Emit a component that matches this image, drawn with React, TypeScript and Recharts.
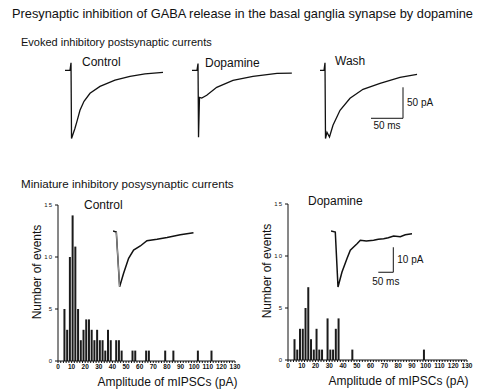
import { Bar, BarChart, Line, LineChart, ReferenceLine, XAxis, YAxis } from "recharts";

const FONT = "Arial, 'Liberation Sans', Helvetica, sans-serif";
const INK = "#111";

// Evoked IPSCs (time in ms from trace start, current in pA)
const CONTROL_EVOKED_T = [0, 7.8, 9.4, 10.2, 15.6, 18.8, 23.4, 29.7, 39.1, 54.7, 78.1, 101.6, 125, 153.1];
const CONTROL_EVOKED_I = [0, 0, 12, -110, -93.5, -82, -64.5, -50, -37, -26, -16, -9.7, -5.6, -3.2];

const DOPAMINE_EVOKED_T = [0, 7.8, 9.4, 10.2, 11.7, 15.2, 23, 38.6, 64, 95.3, 132.8, 156];
const DOPAMINE_EVOKED_I = [0, 0, 11, -108, -43.5, -44.7, -40.3, -27.4, -16.1, -9.7, -4.8, -4.4];

const WASH_EVOKED_T = [0, 6.3, 7.8, 8.6, 10.9, 14.8, 20.3, 31.3, 46.9, 67.2, 93.8, 125, 151.6];
const WASH_EVOKED_I = [0, 0, 12, -110, -100, -107.6, -88.7, -64.5, -45.2, -30.6, -21, -11.3, -6.5];

// averaged mIPSC insets
const CONTROL_MINI_T = [0, 11, 22, 35.3, 52, 68.6, 91, 113, 146.5, 180, 224, 268];
const CONTROL_MINI_I = [0, -0.4, -22.3, -16.9, -10.9, -7.6, -6, -3.9, -3.3, -2.6, -1.5, -0.7];

const DOPAMINE_MINI_T = [0, 14.3, 23.3, 36.6, 53.3, 64.3, 75.3, 87.6, 97.6, 117.5, 141.9, 157.5, 175.2, 190.8, 208.5, 230.8, 247.4, 269.7];
const DOPAMINE_MINI_I = [0, -0.4, -22.4, -16.4, -11, -7.7, -6.4, -5, -3.7, -4, -3.7, -3.3, -3.1, -2.7, -2, -2.3, -1.5, -1.1];

// amplitude histograms (2 pA bins, bin centre in pA)
const CONTROL_AMP = [5, 7, 9, 11, 13, 15, 17, 19, 21, 23, 25, 27, 29, 31, 33, 35, 37, 39, 43, 45, 47, 55, 57, 65, 67, 79, 85, 103, 113];
const CONTROL_N = [5, 3, 10, 14, 11, 5, 2, 3, 4, 4, 3, 2, 3, 2, 2, 1, 3, 2, 2, 2, 1, 1, 1, 1, 1, 1, 1, 1, 1];

const DOPAMINE_AMP = [5, 7, 9, 11, 13, 15, 17, 19, 21, 23, 25, 29, 31, 33, 35, 37, 47, 99];
const DOPAMINE_N = [2, 1, 3, 3, 5, 7, 2, 1, 3, 1, 1, 4, 1, 1, 3, 4, 1, 1];

const AMP_LABELS = [0, 10, 20, 30, 40, 50, 60, 70, 80, 90, 100, 110, 120, 130];
const AMP_TICKS = Array.from({ length: 66 }, (_, k) => k * 2);
const COUNT_TICKS = [0, 5, 10, 15];

const EVOKED_MS_PX = 1.5625;
const EVOKED_PA_PX = 50 / 31;
const MINI_MS_PX = 3.33;
const MINI_PA_PX = 0.4;

type TraceProps = {
  t: number[];
  i: number[];
  left: number;
  top: number;
  width: number;
  height: number;
  msPx: number;
  paPx: number;
  yMax: number;
  sw?: number;
  fallIdx?: number[];
  children?: React.ReactNode;
};

function Trace({ t, i, left, top, width, height, msPx, paPx, yMax, sw = 1.3, fallIdx, children }: TraceProps) {
  const data = t.map((tt, k) => ({
    t: tt,
    i: i[k],
    fall: fallIdx && fallIdx.includes(k) ? i[k] : null,
  }));
  return (
    <div style={{ position: "absolute", left, top }}>
      <LineChart width={width} height={height} data={data} margin={{ top: 0, right: 0, bottom: 0, left: 0 }}>
        <XAxis type="number" dataKey="t" domain={[0, width * msPx]} hide />
        <YAxis type="number" domain={[yMax - height * paPx, yMax]} hide />
        <Line type="linear" dataKey="i" stroke={INK} strokeWidth={sw} dot={false} isAnimationActive={false} />
        {fallIdx && (
          <Line type="linear" dataKey="fall" stroke="#9a9a9a" strokeWidth={1} dot={false} isAnimationActive={false} />
        )}
        {children}
      </LineChart>
    </div>
  );
}

function AmpTick(props: any) {
  const { x, y, payload } = props;
  if (!AMP_LABELS.includes(payload.value)) return <g />;
  return (
    <text x={x} y={y + 4} textAnchor="middle" fontSize={6.5} fontWeight="bold" fill={INK}>
      {payload.value}
    </text>
  );
}

function Histogram({ amps, counts, left, top, plotW }: { amps: number[]; counts: number[]; left: number; top: number; plotW: number }) {
  const data = amps.map((a, k) => ({ amp: a, n: counts[k] }));
  const width = 250;
  return (
    <div style={{ position: "absolute", left, top }}>
      <BarChart width={width} height={195} data={data} margin={{ top: 10, right: width - 58 - plotW, bottom: 19, left: 28 }}>
        <XAxis
          type="number"
          dataKey="amp"
          domain={[0, 130]}
          ticks={AMP_TICKS}
          interval={0}
          tickSize={2}
          height={10}
          allowDataOverflow
          axisLine={{ stroke: INK }}
          tickLine={{ stroke: INK }}
          tick={<AmpTick />}
          label={(p: any) => {
            const vb = p.viewBox;
            return (
              <text x={vb.x + vb.width / 2 + 21} y={vb.y + 25} textAnchor="middle" fontSize={12} fill={INK}>
                Amplitude of mIPSCs (pA)
              </text>
            );
          }}
        />
        <YAxis
          type="number"
          domain={[0, 15]}
          ticks={COUNT_TICKS}
          width={30}
          tickSize={3}
          tickMargin={2}
          axisLine={{ stroke: INK }}
          tickLine={{ stroke: INK }}
          tick={{ fontSize: 6, fill: INK, letterSpacing: 1 }}
          label={(p: any) => {
            const vb = p.viewBox;
            const cx = vb.x + 9;
            const cy = vb.y + vb.height / 2 - 11;
            return (
              <text x={cx} y={cy} transform={`rotate(-90 ${cx} ${cy})`} textAnchor="middle" dominantBaseline="central" fontSize={12} fill={INK}>
                Number of events
              </text>
            );
          }}
        />
        <Bar dataKey="n" fill="#1b1b1b" barSize={2} isAnimationActive={false} />
      </BarChart>
    </div>
  );
}

function Txt({ x, y, size, children }: { x: number; y: number; size: number; children: React.ReactNode }) {
  return (
    <div style={{ position: "absolute", left: x, top: y - size / 2, fontSize: size, lineHeight: `${size}px`, whiteSpace: "nowrap", color: INK }}>
      {children}
    </div>
  );
}

export default function App() {
  const evokedTop = 70 - 15 / EVOKED_PA_PX;
  const miniTop = 230.7 - 2 / MINI_PA_PX;
  return (
    <div style={{ position: "absolute", left: 0, top: 0, width: 500, height: 391, background: "#fff", fontFamily: FONT, overflow: "hidden" }}>
      <Txt x={12} y={14} size={12.8}>
        Presynaptic inhibition of GABA release in the basal ganglia synapse by dopamine
      </Txt>
      <Txt x={21} y={42} size={11}>
        Evoked inhibitory postsynaptic currents
      </Txt>
      <Txt x={82} y={62} size={12}>Control</Txt>
      <Txt x={205} y={63} size={12}>Dopamine</Txt>
      <Txt x={335} y={61} size={12}>Wash</Txt>

      <Trace t={CONTROL_EVOKED_T} i={CONTROL_EVOKED_I} left={65} top={evokedTop} width={100} height={82} msPx={EVOKED_MS_PX} paPx={EVOKED_PA_PX} yMax={15} />
      <Trace t={DOPAMINE_EVOKED_T} i={DOPAMINE_EVOKED_I} left={192} top={evokedTop} width={102} height={82} msPx={EVOKED_MS_PX} paPx={EVOKED_PA_PX} yMax={15} />
      <Trace t={WASH_EVOKED_T} i={WASH_EVOKED_I} left={320} top={evokedTop} width={125} height={82} msPx={EVOKED_MS_PX} paPx={EVOKED_PA_PX} yMax={15}>
        <ReferenceLine
          segment={[{ x: 79.7, y: -77.4 }, { x: 129.7, y: -77.4 }]}
          stroke={INK}
          strokeWidth={1}
          label={{ value: "50 ms", position: "bottom", offset: 4, fontSize: 10, fill: INK }}
        />
        <ReferenceLine
          segment={[{ x: 129.7, y: -77.4 }, { x: 129.7, y: -27.4 }]}
          stroke={INK}
          strokeWidth={1}
          label={{ value: "50 pA", position: "right", offset: 4, fontSize: 10, fill: INK }}
        />
      </Trace>

      <Txt x={21} y={184} size={11.6}>
        Miniature inhibitory posysynaptic currents
      </Txt>

      <Histogram amps={CONTROL_AMP} counts={CONTROL_N} left={0} top={195} plotW={177} />
      <Histogram amps={DOPAMINE_AMP} counts={DOPAMINE_N} left={230} top={194} plotW={179} />

      <Txt x={84} y={205} size={12}>Control</Txt>
      <Txt x={308} y={201} size={12}>Dopamine</Txt>

      <Trace t={CONTROL_MINI_T} i={CONTROL_MINI_I} left={112.7} top={miniTop} width={85} height={70} msPx={MINI_MS_PX} paPx={MINI_PA_PX} yMax={2} sw={1.5} fallIdx={[1, 2]} />
      <Trace t={DOPAMINE_MINI_T} i={DOPAMINE_MINI_I} left={330.7} top={miniTop} width={100} height={70} msPx={MINI_MS_PX} paPx={MINI_PA_PX} yMax={2} sw={1.5}>
        <ReferenceLine
          segment={[{ x: 157.5, y: -16.5 }, { x: 207.5, y: -16.5 }]}
          stroke={INK}
          strokeWidth={1}
          label={{ value: "50 ms", position: "bottom", offset: 6, fontSize: 10, fill: INK }}
        />
        <ReferenceLine
          segment={[{ x: 207.5, y: -16.5 }, { x: 207.5, y: -6.5 }]}
          stroke={INK}
          strokeWidth={1}
          label={{ value: "10 pA", position: "right", offset: 4, fontSize: 10, fill: INK }}
        />
      </Trace>
    </div>
  );
}
